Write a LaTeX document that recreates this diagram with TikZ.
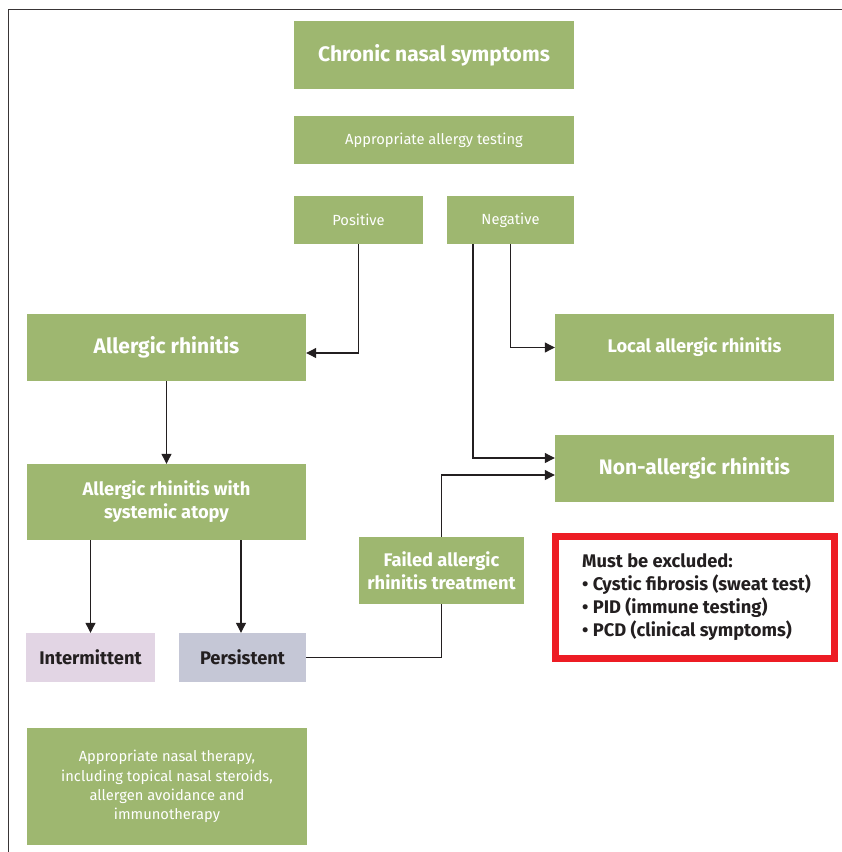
\documentclass[tikz,border=0pt]{standalone}
\usepackage{fontspec}
\setmainfont{Fira Sans}
\usetikzlibrary{arrows.meta}
\definecolor{gr}{RGB}{158,183,112}
\definecolor{ink}{RGB}{35,31,32}
\definecolor{pinkish}{RGB}{226,213,228}
\definecolor{bluegray}{RGB}{197,199,214}
\definecolor{redbox}{RGB}{237,28,36}
\tikzset{
  gbox/.style={fill=gr, draw=none, text=white, align=center, inner sep=0pt},
  lbox/.style={draw=none, text=ink, align=center, inner sep=0pt},
  big/.style={font=\fontsize{21}{25}\selectfont\bfseries},
  mid/.style={font=\fontsize{18.3}{23}\selectfont\bfseries},
  small/.style={font=\fontsize{14.7}{19.3}\selectfont},
  conn/.style={draw=ink, line width=1.1pt},
  arr/.style={conn, -{Triangle[length=10pt,width=10pt]}},
}
\begin{document}
\begin{tikzpicture}[x=1pt,y=-1pt]
\useasboundingbox (0,0) rectangle (842,852);
\draw[ink!90, line width=1.5pt] (842,9.5) -- (8.5,9.5) -- (8.5,852);

\node[gbox, big, minimum width=280, minimum height=68] (chronic) at (434,55) {Chronic nasal symptoms};
\node[gbox, small, minimum width=280, minimum height=48] (testing) at (434,140) {Appropriate allergy testing};
\node[gbox, small, minimum width=129, minimum height=48] (pos) at (358.5,220) {Positive};
\node[gbox, small, minimum width=127, minimum height=48] (neg) at (510.5,220) {Negative};
\node[gbox, big, minimum width=279, minimum height=67] (ar) at (166.5,347.5) {Allergic rhinitis};
\node[gbox, mid, minimum width=279, minimum height=67] (local) at (694.5,347.5) {Local allergic rhinitis};
\node[gbox, big, minimum width=279, minimum height=67] (nonar) at (694.5,468.5) {Non-allergic rhinitis};
\node[gbox, mid, minimum width=279, minimum height=76] (atopy) at (166.5,502) {Allergic rhinitis with\\systemic atopy};
\node[gbox, mid, minimum width=165, minimum height=67] (failed) at (441.5,570.5) {Failed allergic\\rhinitis treatment};
\node[draw=redbox, line width=7pt, minimum width=279, minimum height=122, inner sep=0pt] (red) at (695,597.5) {};
\node[lbox, mid, align=left, anchor=west] (redtext) at (582,597.5) {Must be excluded:\\\textbullet\ Cystic fibrosis (sweat test)\\\textbullet\ PID (immune testing)\\\textbullet\ PCD (clinical symptoms)};
\node[lbox, mid, fill=pinkish, minimum width=129, minimum height=49] (inter) at (90.5,657.5) {Intermittent};
\node[lbox, mid, fill=bluegray, minimum width=127, minimum height=49] (pers) at (242.5,657.5) {Persistent};
\node[gbox, small, minimum width=280, minimum height=117] (therapy) at (167,786.5) {Appropriate nasal therapy,\\including topical nasal steroids,\\allergen avoidance and\\immunotherapy};

\draw[arr] (pos.south) |- ([yshift=-5.5pt]ar.east);
\draw[arr] (neg.south) |- (local.west);
\draw[arr] ([xshift=-37.5pt]neg.south) |- ([yshift=10.5pt]nonar.west);
\draw[arr] (failed.north) |- ([yshift=-6.5pt]nonar.west);
\draw[conn] (pers.east) -| (failed.south);
\draw[arr] (ar.south) -- (atopy.north);
\draw[arr] (atopy.south -| inter.north) -- (inter.north);
\draw[arr] ([xshift=-1.5pt]atopy.south -| pers.north) -- ([xshift=-1.5pt]pers.north);
\end{tikzpicture}
\end{document}
